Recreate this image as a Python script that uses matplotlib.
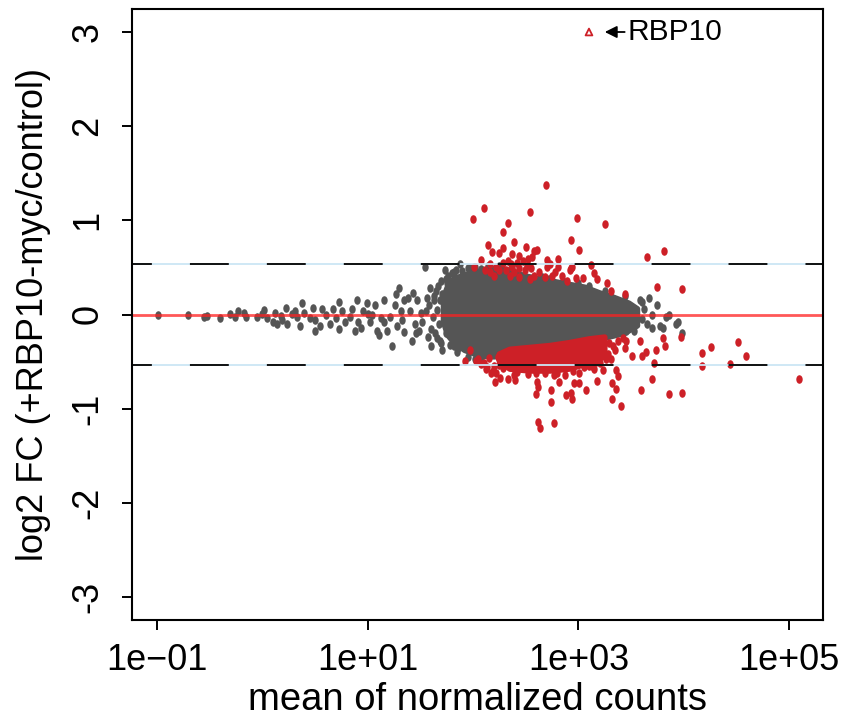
import numpy as np
import matplotlib.pyplot as plt
from matplotlib.path import Path

plt.rcParams['font.family'] = ['Liberation Sans', 'DejaVu Sans']
plt.rcParams['lines.scale_dashes'] = False

# log10(mean of normalized counts), log2 fold change
gray_lx = [-0.99, -0.70, -0.55, -0.52, -0.40, -0.31, -0.26, -0.23, -0.17, -0.15,
           -0.05, 0.00, 0.02, 0.05, 0.10, 0.14, 0.18, 0.23, 0.24, 0.28, 0.33,
           0.38, 0.40, 0.48, 0.50, 0.50, 0.57, 0.61, 0.64, 0.67, 0.73, 0.73, 0.76,
           0.83, 0.85, 0.90, 0.91, 0.94, 0.99, 1.00, 1.02, 1.07, 1.09, 1.11, 1.16,
           1.16, 1.18, 1.21, 1.23, 1.26, 1.27, 1.30, 1.32, 1.33, 1.35, 1.38, 1.40,
           1.43, 1.45, 1.46, 1.47, 1.51, 1.52, 1.54, 1.56, 1.57, 1.59, 1.62, 1.65,
           1.66, 1.70, 1.71, 1.73, 1.76, 1.88, 1.82,
           0.12, 0.19, 0.31, 0.36, 0.45, 0.55, 0.70, 0.79, 0.88, 0.96, 1.04, 1.13,
           1.28, 1.35, 1.42, 1.49, 1.55, 1.60, 1.63, 1.82, 1.97, 2.14,
           1.58, 1.60, 1.63, 1.64, 1.66, 1.67, 1.68, 1.69, 1.70, 1.71, 1.72, 1.74,
           1.75, 1.76, 1.78, 1.79, 1.80, 1.84, 1.86, 1.90, 1.95, 2.02, 2.08, 2.25,
           2.65, 2.72, 2.85, 3.00, 3.10, 3.25, 3.55, 3.60, 1.85, 1.95, 2.02, 2.08,
           3.35, 3.45, 1.72, 1.77, 1.74, 1.69,
           3.29, 3.32, 3.39, 3.45, 3.51, 3.55, 3.58, 3.60, 3.65, 3.67, 3.70, 3.70,
           3.75, 3.77, 3.80, 3.83, 3.86, 3.93, 3.94, 3.98, 3.48, 3.36, 3.25, 3.20,
           3.44, 3.62, 3.53]
gray_lfc = [0.00, -0.01, -0.03, -0.02, -0.04, 0.01, -0.03, 0.04, 0.02, -0.03,
            -0.03, 0.01, 0.05, -0.04, -0.08, -0.10, -0.02, 0.07, -0.10, 0.01, -0.03,
            0.12, 0.02, 0.07, -0.06, -0.17, 0.06, -0.01, -0.10, 0.06, 0.13, -0.15, 0.04,
            -0.03, 0.06, 0.15, -0.08, -0.14, 0.12, 0.01, -0.08, 0.10, -0.17, -0.22, 0.15,
            -0.08, -0.17, -0.03, -0.33, 0.10, 0.22, 0.28, 0.04, -0.06, -0.19, 0.18, 0.04,
            0.23, -0.10, -0.20, 0.15, 0.02, -0.08, 0.50, 0.17, -0.24, 0.28, -0.03, 0.25,
            -0.25, 0.36, -0.38, 0.47, 0.41, 0.54, -0.33,
            0.02, -0.06, 0.04, -0.12, -0.04, -0.12, -0.04, -0.08, -0.17, 0.04, 0.00, -0.04,
            -0.12, 0.15, -0.28, -0.17, 0.04, -0.33, 0.15, 0.45, 0.49, 0.51,
            0.10, -0.15, 0.20, -0.20, 0.05, 0.30, -0.10, 0.15, -0.30, 0.22, 0.02, -0.20,
            0.33, 0.12, -0.32, 0.25, 0.44, 0.47, -0.36, 0.46, 0.49, 0.50, 0.48, 0.52,
            0.40, 0.38, 0.36, 0.33, 0.30, 0.25, 0.02, -0.05, -0.40, -0.45, -0.47, -0.48,
            -0.20, -0.18, -0.05, 0.08, 0.38, -0.28,
            0.04, 0.18, 0.12, 0.04, -0.06, 0.01, 0.15, 0.13, -0.10, 0.17, -0.01, -0.14,
            0.10, -0.12, -0.14, -0.03, -0.01, -0.10, -0.08, -0.20, -0.08, -0.12, -0.08, 0.10,
            0.20, 0.06, -0.17]

red_lx = [2.69, 2.10, 2.00, 2.54, 2.33, 2.28, 2.99, 3.25, 2.93, 3.01, 2.39, 2.14,
          2.50, 2.28, 2.18, 2.25, 2.58, 2.61, 2.37, 2.44, 2.56, 2.08, 2.70, 2.81,
          2.73, 2.16, 2.28, 2.22, 2.37, 2.44, 2.51, 2.01, 2.11, 2.70, 2.81, 2.93,
          3.12, 3.65, 3.81, 2.98, 3.04, 3.15, 3.18, 3.27, 3.75, 3.98, 3.44, 3.31,
          2.75, 2.89, 2.54, 2.58, 2.94, 2.92,
          2.33, 2.36, 2.42, 2.47, 2.52, 2.31, 2.39, 2.49, 2.55, 2.35, 2.44, 2.63,
          2.68, 2.78, 2.84, 2.20, 2.25, 2.16,
          2.12, 2.03, 2.22, 2.21, 2.33, 2.61, 2.62, 2.60, 2.74, 2.77, 2.82, 2.88,
          2.94, 2.93, 2.96, 3.01, 3.07, 2.74, 2.62, 2.64, 2.77, 3.18, 3.23, 3.32,
          3.36, 3.38, 3.36, 3.32, 3.40, 3.59, 3.70, 3.72, 3.74, 3.86, 3.98, 4.17,
          4.26, 4.17, 4.44, 4.51, 4.59, 5.09, 3.64, 3.58, 3.45, 3.29, 3.51, 3.80,
          3.97, 3.60, 3.82, 3.44, 3.31, 3.20, 3.10, 1.97, 1.92, 2.08, 2.17, 2.39,
          2.52, 2.68, 2.87, 3.01, 3.15, 2.25, 2.44, 2.26, 2.40,
          2.05, 2.10, 2.15, 2.20, 2.28, 2.42, 2.60, 2.80, 2.95, 3.05, 3.17, 3.28,
          3.33, 3.38, 3.42, 3.22, 3.35, 2.13, 2.19, 2.24, 2.31, 3.13, 3.26]
red_lfc = [1.37, 1.13, 1.01, 1.09, 0.97, 0.88, 1.02, 0.96, 0.79, 0.68, 0.77, 0.74,
           0.72, 0.71, 0.66, 0.65, 0.67, 0.68, 0.64, 0.62, 0.61, 0.58, 0.58, 0.59,
           0.54, 0.54, 0.55, 0.50, 0.50, 0.49, 0.52, 0.50, 0.47, 0.50, 0.50, 0.49,
           0.53, 0.61, 0.67, 0.39, 0.39, 0.44, 0.38, 0.33, 0.29, 0.27, 0.22, 0.25,
           0.41, 0.36, 0.38, 0.41, 0.50, 0.47,
           0.57, 0.54, 0.55, 0.57, 0.59, 0.47, 0.45, 0.47, 0.49, 0.41, 0.40, 0.45,
           0.40, 0.45, 0.41, 0.41, 0.47, 0.45,
           -0.58, -0.49, -0.62, -0.72, -0.69, -0.72, -0.77, -0.84, -0.80, -0.64, -0.72, -0.86,
           -0.90, -0.83, -0.73, -0.73, -0.80, -0.93, -1.14, -1.21, -1.15, -0.71, -0.59, -0.73,
           -0.59, -0.65, -0.79, -0.90, -0.97, -0.80, -0.68, -0.52, -0.38, -0.84, -0.83, -0.41,
           -0.35, -0.55, -0.53, -0.29, -0.44, -0.68, -0.40, -0.28, -0.28, -0.30, -0.44, -0.25,
           -0.24, -0.44, -0.33, -0.36, -0.47, -0.51, -0.55, -0.38, -0.49, -0.53, -0.62, -0.64,
           -0.63, -0.62, -0.64, -0.62, -0.58, -0.54, -0.55, -0.67, -0.70,
           -0.47, -0.52, -0.46, -0.55, -0.57, -0.61, -0.62, -0.62, -0.60, -0.56, -0.50, -0.42,
           -0.33, -0.28, -0.25, -0.30, -0.38, -0.56, -0.60, -0.45, -0.50, -0.55, -0.47]

# outline of the solid grey core and the dense red band beneath it
core_lx = [1.72, 1.76, 1.82, 1.92, 2.06, 2.20, 2.35, 2.49, 2.63, 2.77, 2.91, 3.06,
           3.20, 3.34, 3.48, 3.56, 3.56, 3.44, 3.29, 3.10, 2.91, 2.73, 2.54, 2.35,
           2.20, 2.06, 1.92, 1.82, 1.76, 1.72]
core_lfc = [0.18, 0.30, 0.38, 0.42, 0.46, 0.49, 0.47, 0.41, 0.38, 0.35, 0.32, 0.29,
            0.23, 0.18, 0.12, 0.06, -0.12, -0.20, -0.24, -0.29, -0.35, -0.38, -0.40, -0.41,
            -0.45, -0.44, -0.38, -0.30, -0.22, -0.08]
band_lx = [2.25, 2.35, 2.54, 2.73, 2.91, 3.10, 3.25,
           3.25, 3.10, 2.91, 2.73, 2.54, 2.35, 2.25]
band_lfc = [-0.42, -0.37, -0.35, -0.33, -0.30, -0.26, -0.24,
            -0.45, -0.52, -0.58, -0.60, -0.60, -0.58, -0.50]

cutoff = 0.54
rbp10_lx, rbp10_lfc = 3.10, 3.0

GREY = '#555555'
RED = '#cd2027'

circle = Path.unit_circle()
dot = Path(circle.vertices * np.array([0.75, 1.0]), circle.codes)

fig = plt.figure(figsize=(8.46, 7.2), dpi=100)
ax = fig.add_axes([132 / 846, 1 - 619.6 / 720, 691 / 846, 610.2 / 720])
ax.set_xscale('log')

ax.fill(10 ** np.array(core_lx), core_lfc, color=GREY, lw=4, joinstyle='round')
ax.scatter(10 ** np.array(gray_lx), gray_lfc, s=38, marker=dot, color=GREY, linewidths=0)
ax.fill(10 ** np.array(band_lx), band_lfc, color=RED, lw=4, joinstyle='round')
ax.scatter(10 ** np.array(red_lx), red_lfc, s=38, marker=dot, color=RED, linewidths=0)

ax.scatter([10 ** rbp10_lx], [rbp10_lfc], s=24, marker='^', facecolors='none',
           edgecolors=RED, linewidths=1.3)
ax.annotate('RBP10', xy=(10 ** 3.25, rbp10_lfc), xytext=(10 ** 3.465, rbp10_lfc),
            fontsize=21.5, va='center', ha='left',
            arrowprops=dict(arrowstyle='-|>', color='black', lw=1.3,
                            mutation_scale=18, shrinkA=0, shrinkB=0))

ax.axhline(0, color='#ff2020', alpha=0.75, lw=2)
for h in (cutoff, -cutoff):
    ax.axhline(h, color='#cbe6f5', lw=1.3)
    ax.axhline(h, color='black', lw=1.3, ls=(13.7, (28, 27.4)))

ax.set_xlim(10 ** -1.235, 10 ** 5.32)
ax.set_ylim(-3.24, 3.24)
ax.set_xticks([1e-1, 1e1, 1e3, 1e5])
ax.set_xticklabels(['1e\u221201', '1e+01', '1e+03', '1e+05'])
ax.minorticks_off()
ax.set_yticks([-3, -2, -1, 0, 1, 2, 3])
ax.set_yticklabels(['-3', '-2', '-1', '0', '1', '2', '3'], rotation=90, va='center')

for s in ax.spines.values():
    s.set_linewidth(1.5)
ax.tick_params(length=7, width=1.4, labelsize=26, pad=10)
ax.tick_params(axis='y', pad=12)

ax.set_xlabel('mean of normalized counts', fontsize=27.5, labelpad=3)
ax.set_ylabel('log2 FC (+RBP10-myc/control)', fontsize=26, labelpad=14)

fig.savefig('out.png', dpi=100)
